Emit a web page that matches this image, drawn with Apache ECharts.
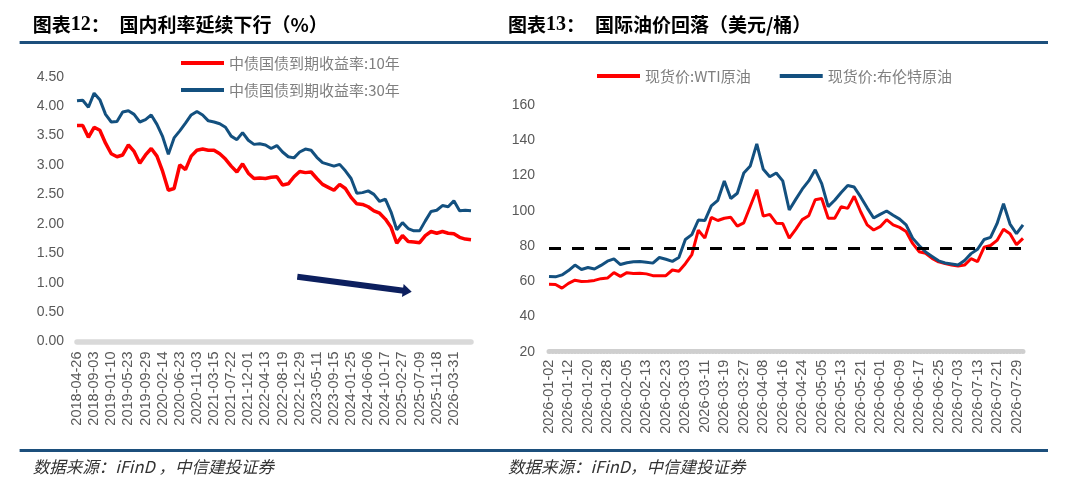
<!DOCTYPE html>
<html>
<head>
<meta charset="utf-8">
<script src="https://cdn.jsdelivr.net/npm/echarts@6/dist/echarts.min.js"></script>
<style>
html,body{margin:0;padding:0;background:#fff;}
#c{width:1080px;height:495px;}
</style>
</head>
<body>
<div id="c"></div>
<script>
// ---------- Left chart: China government bond yields (%) ----------
const bondTickLabels = [
  '2018-04-26','2018-09-03','2019-01-10','2019-05-23','2019-09-29','2020-02-14',
  '2020-06-23','2020-11-03','2021-03-15','2021-07-22','2021-12-01','2022-04-13',
  '2022-08-19','2022-12-29','2023-05-11','2023-09-15','2024-01-25','2024-06-06',
  '2024-10-17','2025-02-27','2025-07-09','2025-11-18','2026-03-31'
];
const bondStepsPerLabel = 3;
const bond10Y = [
  3.67,3.67,3.47,3.64,3.59,3.37,3.19,3.14,3.17,3.34,
  3.23,3.03,3.17,3.28,3.15,2.89,2.57,2.60,3.00,2.92,
  3.15,3.25,3.27,3.25,3.25,3.19,3.10,2.98,2.88,3.02,
  2.86,2.77,2.78,2.77,2.79,2.80,2.66,2.68,2.80,2.89,
  2.87,2.88,2.77,2.67,2.62,2.57,2.67,2.60,2.45,2.34,
  2.33,2.29,2.22,2.18,2.08,1.94,1.67,1.80,1.70,1.69,
  1.68,1.80,1.87,1.84,1.87,1.84,1.83,1.77,1.74,1.73
];
const bond30Y = [
  4.09,4.10,3.98,4.22,4.11,3.86,3.73,3.74,3.90,3.92,
  3.86,3.73,3.77,3.85,3.69,3.48,3.18,3.46,3.58,3.71,
  3.85,3.91,3.85,3.75,3.73,3.70,3.64,3.49,3.43,3.55,
  3.42,3.35,3.36,3.34,3.28,3.33,3.22,3.14,3.12,3.22,
  3.27,3.25,3.13,3.04,3.01,2.98,3.01,2.90,2.77,2.52,
  2.53,2.56,2.50,2.38,2.42,2.20,1.90,2.02,1.92,1.88,
  1.88,2.05,2.21,2.23,2.31,2.29,2.39,2.22,2.23,2.22
];
const bondNames = ['中债国债到期收益率:10年','中债国债到期收益率:30年'];
const bondAxis = {min:0, max:4.5, interval:0.5};

// ---------- Right chart: oil spot prices (USD/bbl) ----------
const oilTickLabels = [
  '2026-01-02','2026-01-12','2026-01-20','2026-01-28','2026-02-05','2026-02-13',
  '2026-02-23','2026-03-03','2026-03-11','2026-03-19','2026-03-27','2026-04-08',
  '2026-04-16','2026-04-24','2026-05-05','2026-05-13','2026-05-21','2026-06-01',
  '2026-06-09','2026-06-17','2026-06-25','2026-07-03','2026-07-13','2026-07-21',
  '2026-07-29'
];
const oilStepsPerLabel = 3;
const wtiSpot = [
  58.3,58.2,56.1,58.8,60.6,59.9,60.0,60.5,61.5,61.8,
  64.9,62.8,64.9,64.4,64.6,64.2,63.2,63.2,63.2,66.4,
  65.7,70.0,75.2,89.0,84.5,96.3,94.5,95.8,96.3,91.3,
  93.2,102.6,112.0,97.0,98.0,93.0,92.8,84.5,89.5,95.0,
  97.2,106.3,107.0,95.8,95.8,102.3,101.4,108.3,99.5,92.0,
  89.1,91.0,95.0,92.0,90.6,88.3,81.5,76.8,75.9,73.0,
  71.0,70.1,69.2,68.7,69.2,72.8,71.2,79.3,80.3,83.2,
  89.5,87.0,80.8,84.4
];
const brentSpot = [
  62.7,62.5,63.6,66.1,69.2,66.7,67.8,67.0,69.0,71.4,
  72.7,69.5,70.5,71.1,71.2,70.8,70.3,73.5,72.5,71.3,
  73.5,83.7,86.5,94.8,94.5,102.8,106.0,117.0,107.0,110.0,
  121.5,125.5,138.0,123.6,119.4,121.5,117.0,100.5,106.5,112.3,
  117.0,123.3,115.5,102.4,106.0,110.4,114.4,113.5,107.9,101.7,
  95.9,98.0,99.9,97.5,95.3,92.0,84.5,80.3,76.6,74.1,
  71.6,70.4,69.8,69.2,71.8,75.7,78.2,83.7,84.9,92.7,
  104.0,92.5,87.0,92.0
];
const oilNames = ['现货价:WTI原油','现货价:布伦特原油'];
const oilReferenceLevel = 79;
const oilAxis = {min:20, max:160, interval:20};

// ---------- helpers ----------
function buildCategories(labels, steps, count) {
  const out = [];
  for (let i = 0; i < count; i++) {
    const k = i / steps;
    if (i % steps === 0 && k < labels.length) out.push(labels[k]);
    else out.push('\u00b7' + i);
  }
  return out;
}
const bondCats = buildCategories(bondTickLabels, bondStepsPerLabel, bond10Y.length);
const oilCats = buildCategories(oilTickLabels, oilStepsPerLabel, wtiSpot.length);
const bondSet = new Set(bondTickLabels);
const oilSet = new Set(oilTickLabels);

const RED = '#ff0000';
const BLUE = '#13507f';
const NAVY_RULE = '#1c4f7c';
const LABEL_COLOR = '#595959';
const CJK = '"Noto Sans CJK SC"';

const chart = echarts.init(document.getElementById('c'), null, {renderer:'canvas'});

const arrowLen = Math.sqrt(114.4*114.4 + 15*15);

chart.setOption({
  animation: false,
  backgroundColor: '#fff',
  grid: [
    {left:77, right:609, top:76.7, bottom:153.5, containLabel:false, outerBoundsMode:'none'},
    {left:549, right:57, top:105.2, bottom:143.3, containLabel:false, outerBoundsMode:'none'}
  ],
  legend: [
    {data:[bondNames[0]], left:181, top:54, padding:0, icon:'rect', itemWidth:43, itemHeight:4,
     selectedMode:false, textStyle:{fontSize:15, color:'#7f7f7f', fontFamily:CJK, lineHeight:18}},
    {data:[bondNames[1]], left:181, top:81, padding:0, icon:'rect', itemWidth:43, itemHeight:4,
     selectedMode:false, textStyle:{fontSize:15, color:'#7f7f7f', fontFamily:CJK, lineHeight:18}},
    {data:oilNames, left:597, top:67, padding:0, orient:'horizontal', itemGap:29, icon:'rect',
     itemWidth:43, itemHeight:4, selectedMode:false,
     textStyle:{fontSize:15, color:'#7f7f7f', fontFamily:CJK, lineHeight:18}}
  ],
  xAxis: [
    {type:'category', gridIndex:0, data:bondCats, boundaryGap:false,
     axisLine:{show:true, onZero:false, lineStyle:{color:'#d9d9d9', width:5.5}},
     axisTick:{show:false},
     axisLabel:{rotate:90, margin:10, fontSize:14.5, color:LABEL_COLOR, fontFamily:'"Liberation Sans", Arial',
       interval:(idx, val) => bondSet.has(val)},
     splitLine:{show:false}},
    {type:'category', gridIndex:1, data:oilCats, boundaryGap:false,
     axisLine:{show:true, onZero:false, lineStyle:{color:'#cfcfcf', width:5, type:[1,2.2]}},
     axisTick:{show:false},
     axisLabel:{rotate:90, margin:8, fontSize:14.5, color:LABEL_COLOR, fontFamily:'"Liberation Sans", Arial',
       interval:(idx, val) => oilSet.has(val)},
     splitLine:{show:false}}
  ],
  yAxis: [
    {type:'value', gridIndex:0, min:bondAxis.min, max:bondAxis.max, interval:bondAxis.interval,
     axisLine:{show:false}, axisTick:{show:false}, splitLine:{show:false},
     axisLabel:{margin:13, fontSize:14, color:LABEL_COLOR, fontFamily:'"Liberation Sans", Arial',
       formatter:v => v.toFixed(2)}},
    {type:'value', gridIndex:1, min:oilAxis.min, max:oilAxis.max, interval:oilAxis.interval,
     axisLine:{show:false}, axisTick:{show:false}, splitLine:{show:false},
     axisLabel:{margin:14, fontSize:14, color:LABEL_COLOR, fontFamily:'"Liberation Sans", Arial'}}
  ],
  series: [
    {name:bondNames[0], type:'line', xAxisIndex:0, yAxisIndex:0, data:bond10Y, color:RED,
     showSymbol:false, symbol:'none', lineStyle:{width:3.5, color:RED}},
    {name:bondNames[1], type:'line', xAxisIndex:0, yAxisIndex:0, data:bond30Y, color:BLUE,
     showSymbol:false, symbol:'none', lineStyle:{width:3, color:BLUE}},
    {name:oilNames[0], type:'line', xAxisIndex:1, yAxisIndex:1, data:wtiSpot, color:RED,
     showSymbol:false, symbol:'none', lineStyle:{width:3, color:RED},
     markLine:{silent:true, symbol:['none','none'], label:{show:false},
       lineStyle:{type:[12,11], color:'#000', width:3},
       data:[{yAxis:oilReferenceLevel}]}},
    {name:oilNames[1], type:'line', xAxisIndex:1, yAxisIndex:1, data:brentSpot, color:BLUE,
     showSymbol:false, symbol:'none', lineStyle:{width:3, color:BLUE}}
  ],
  graphic: [
    {type:'line', shape:{x1:19.6, y1:42.4, x2:1048, y2:42.4}, style:{stroke:NAVY_RULE, lineWidth:3}},
    {type:'line', shape:{x1:19.6, y1:450.5, x2:1048, y2:450.5}, style:{stroke:NAVY_RULE, lineWidth:3}},
    {type:'text', x:32.7, y:25, style:{text:'{a|图表}{n|12}{a|：}', verticalAlign:'middle', fill:'#000',
      rich:{a:{fontSize:19, fontWeight:'bold', fontFamily:CJK, fill:'#000'},
            n:{fontSize:20, fontWeight:'bold', fontFamily:'"Liberation Serif"', fill:'#000'}}}},
    {type:'text', x:119.5, y:25, style:{text:'国内利率延续下行（%）', verticalAlign:'middle', fill:'#000',
      font:'bold 19px "Noto Sans CJK SC"'}},
    {type:'text', x:508, y:25, style:{text:'{a|图表}{n|13}{a|：}', verticalAlign:'middle', fill:'#000',
      rich:{a:{fontSize:19, fontWeight:'bold', fontFamily:CJK, fill:'#000'},
            n:{fontSize:20, fontWeight:'bold', fontFamily:'"Liberation Serif"', fill:'#000'}}}},
    {type:'text', x:595, y:25, style:{text:'国际油价回落（美元/桶）', verticalAlign:'middle', fill:'#000',
      font:'bold 19px "Noto Sans CJK SC"'}},
    {type:'text', x:32.7, y:467, style:{text:'数据来源：iFinD ，中信建投证券', verticalAlign:'middle', fill:'#333',
      font:'italic 16.5px "Noto Sans CJK SC"'}},
    {type:'text', x:508, y:467, style:{text:'数据来源：iFinD，中信建投证券', verticalAlign:'middle', fill:'#333',
      font:'italic 16.5px "Noto Sans CJK SC"'}},
    {type:'group', x:297.3, y:276.7, rotation:-Math.atan2(15, 114.4), children:[
      {type:'rect', shape:{x:0, y:-3, width:arrowLen-8, height:6}, style:{fill:'#0c1f5e'}},
      {type:'polygon', shape:{points:[[arrowLen-9,-6.5],[arrowLen,0],[arrowLen-9,6.5]]}, style:{fill:'#0c1f5e'}}
    ]}
  ]
});
</script>
</body>
</html>
